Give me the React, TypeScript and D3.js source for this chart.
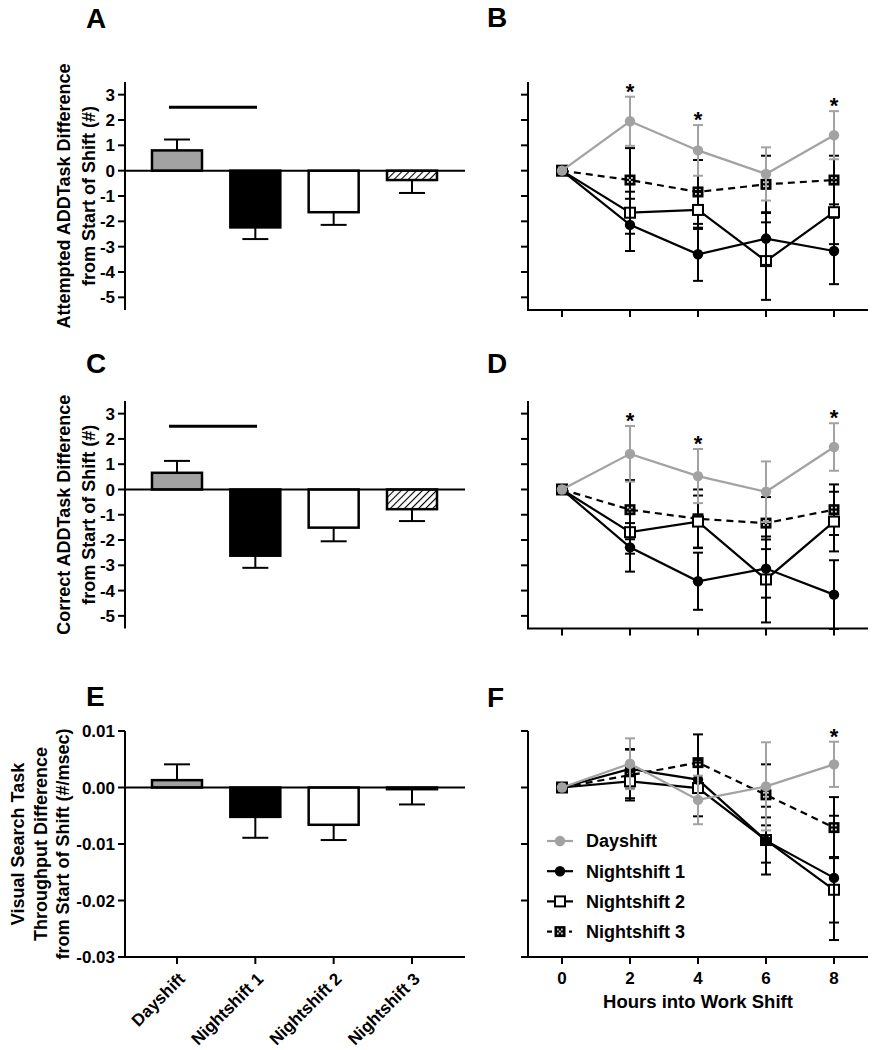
import React from 'react';
import * as d3 from 'd3';

/* ── Data ─────────────────────────────────────────────────────── */
const GROUPS = ['Dayshift', 'Nightshift 1', 'Nightshift 2', 'Nightshift 3'];
const HOURS = [0, 2, 4, 6, 8];
const ADD_TICKS = [3, 2, 1, 0, -1, -2, -3, -4, -5];
const VIS_TICKS = [0.01, 0, -0.01, -0.02, -0.03];

// A: attempted ADDTask, end-of-shift change (mean, SEM)
const attemptedMean = [0.8, -2.24, -1.64, -0.37];
const attemptedSem = [0.43, 0.46, 0.5, 0.51];
// C: correct ADDTask
const correctMean = [0.66, -2.62, -1.51, -0.78];
const correctSem = [0.47, 0.48, 0.54, 0.47];
// E: visual search throughput
const visualMean = [0.0013, -0.0052, -0.0066, -0.0003];
const visualSem = [0.0028, 0.0037, 0.0027, 0.0027];

// B: attempted ADDTask over hours
const attDay = [0, 1.95, 0.8, -0.13, 1.4];
const attDaySem = [0, 0.97, 1.0, 1.05, 0.95];
const attN1 = [0, -2.14, -3.3, -2.68, -3.17];
const attN1Sem = [0, 1.03, 1.05, 1.04, 1.31];
const attN2 = [0, -1.66, -1.55, -3.57, -1.64];
const attN2Sem = [0, 0.83, 0.75, 1.53, 1.26];
const attN3 = [0, -0.37, -0.84, -0.54, -0.37];
const attN3Sem = [0, 1.26, 1.26, 1.13, 0.96];
const attStars = [2, 4, 8];

// D: correct ADDTask over hours
const corDay = [0, 1.41, 0.53, -0.09, 1.68];
const corDaySem = [0, 1.1, 1.07, 1.2, 0.94];
const corN1 = [0, -2.29, -3.63, -3.13, -4.16];
const corN1Sem = [0, 0.96, 1.13, 1.15, 1.36];
const corN2 = [0, -1.69, -1.27, -3.56, -1.27];
const corN2Sem = [0, 0.85, 1.03, 1.7, 1.18];
const corN3 = [0, -0.8, -1.16, -1.33, -0.8];
const corN3Sem = [0, 1.17, 1.16, 1.03, 1.0];
const corStars = [2, 4, 8];

// F: visual search throughput over hours
const visDay = [0, 0.0042, -0.0022, 0.0002, 0.0041];
const visDaySem = [0, 0.0045, 0.0043, 0.0078, 0.004];
const visN1 = [0, 0.0033, 0.0014, -0.0094, -0.016];
const visN1Sem = [0, 0.0035, 0.0035, 0.006, 0.011];
const visN2 = [0, 0.0011, -0.0001, -0.0093, -0.0181];
const visN2Sem = [0, 0.003, 0.005, 0.004, 0.0058];
const visN3 = [0, 0.0022, 0.0044, -0.0013, -0.0071];
const visN3Sem = [0, 0.0045, 0.005, 0.0054, 0.0054];
const visStars = [8];

/* ── Style ────────────────────────────────────────────────────── */
const FONT = "'Liberation Sans', Arial, Helvetica, sans-serif";
const GRAY = '#a2a2a2';
const BAR_FILLS = [GRAY, '#000', '#fff', 'url(#hatch)'];

const addFmt = (v: number) => String(v);
const visFmt = (v: number) => v.toFixed(2);

type Row = { top: number; bottom: number; domain: [number, number] };
const ROW1: Row = { top: 82, bottom: 310, domain: [-5.5, 3.5] };
const ROW2: Row = { top: 401, bottom: 628.5, domain: [-5.5, 3.5] };
const ROW3: Row = { top: 731, bottom: 957, domain: [-0.03, 0.01] };

/* ── Bar panel (A, C, E) ─────────────────────────────────────── */
const BarPanel: React.FC<{
  row: Row;
  ticks: number[];
  fmt: (v: number) => string;
  mean: number[];
  sem: number[];
  letter: string;
  letterY: number;
  label: string[];
  labelX: number[];
  sig?: number;
  catAxis?: boolean;
}> = ({ row, ticks, fmt, mean, sem, letter, letterY, label, labelX, sig, catAxis }) => {
  const axisX = 125;
  const y = d3.scaleLinear().domain(row.domain).range([row.bottom, row.top]);
  const x = d3.scalePoint<string>().domain(GROUPS).range([177, 412]);
  const bw = 50;
  const y0 = y(0);
  const midY = (row.top + row.bottom) / 2;

  return (
    <g>
      <text x={86} y={letterY} fontSize={28} fontWeight="bold" fontFamily={FONT}>
        {letter}
      </text>
      {label.map((l, i) => (
        <text
          key={i}
          transform={`translate(${labelX[i]},${midY}) rotate(-90)`}
          textAnchor="middle"
          dy="0.35em"
          fontSize={18}
          fontWeight="bold"
          fontFamily={FONT}
        >
          {l}
        </text>
      ))}

      {/* bars */}
      {GROUPS.map((g, i) => {
        const v = mean[i];
        const cx = x(g)!;
        const e = v >= 0 ? v + sem[i] : v - sem[i];
        return (
          <g key={g}>
            <line x1={cx} x2={cx} y1={y(v)} y2={y(e)} stroke="#000" strokeWidth={2} />
            <line x1={cx - 13} x2={cx + 13} y1={y(e)} y2={y(e)} stroke="#000" strokeWidth={2} />
            <rect
              x={cx - bw / 2}
              width={bw}
              y={Math.min(y(v), y0)}
              height={Math.abs(y(v) - y0)}
              fill={BAR_FILLS[i]}
              stroke="#000"
              strokeWidth={2.5}
            />
          </g>
        );
      })}

      {/* zero line */}
      <line x1={axisX} x2={465} y1={y0} y2={y0} stroke="#000" strokeWidth={2} />

      {sig !== undefined && (
        <line x1={169} x2={257} y1={y(sig)} y2={y(sig)} stroke="#000" strokeWidth={3} />
      )}

      {/* y axis */}
      <line x1={axisX} x2={axisX} y1={row.top} y2={row.bottom} stroke="#000" strokeWidth={2} />
      {ticks.map(t => (
        <g key={t}>
          <line x1={axisX - 7} x2={axisX} y1={y(t)} y2={y(t)} stroke="#000" strokeWidth={2} />
          <text
            x={axisX - 10}
            y={y(t)}
            dy="0.36em"
            textAnchor="end"
            fontSize={17}
            fontWeight="bold"
            fontFamily={FONT}
          >
            {fmt(t)}
          </text>
        </g>
      ))}

      {catAxis && (
        <g>
          <line x1={axisX} x2={465} y1={row.bottom} y2={row.bottom} stroke="#000" strokeWidth={2} />
          {GROUPS.map(g => (
            <g key={g}>
              <line
                x1={x(g)!}
                x2={x(g)!}
                y1={row.bottom}
                y2={row.bottom + 7}
                stroke="#000"
                strokeWidth={2}
              />
              <text
                transform={`translate(${x(g)! + 9},${row.bottom + 23}) rotate(-45)`}
                textAnchor="end"
                fontSize={17}
                fontWeight="bold"
                fontFamily={FONT}
              >
                {g}
              </text>
            </g>
          ))}
        </g>
      )}
    </g>
  );
};

/* ── Line panel (B, D, F) ────────────────────────────────────── */
type Series = { name: string; vals: number[]; sem: number[] };

const Marker: React.FC<{ idx: number; cx: number; cy: number }> = ({ idx, cx, cy }) => {
  if (idx === 0) return <circle cx={cx} cy={cy} r={5.2} fill={GRAY} />;
  if (idx === 1) return <circle cx={cx} cy={cy} r={5.2} fill="#000" />;
  if (idx === 2)
    return (
      <rect x={cx - 5} y={cy - 5} width={10} height={10} fill="#fff" stroke="#000" strokeWidth={2} />
    );
  return (
    <g>
      <rect x={cx - 5.5} y={cy - 5.5} width={11} height={11} fill="#000" />
      {[
        [-3, -3],
        [1, -3],
        [-3, 1],
        [1, 1],
        [-1, -1]
      ].map(([dx, dy], k) => (
        <rect key={k} x={cx + dx} y={cy + dy} width={1.8} height={1.8} fill="#d8d8d8" />
      ))}
    </g>
  );
};

const LinePanel: React.FC<{
  row: Row;
  ticks: number[];
  series: Series[];
  stars: number[];
  letter: string;
  letterY: number;
  xLabels?: boolean;
  legend?: boolean;
}> = ({ row, ticks, series, stars, letter, letterY, xLabels, legend }) => {
  const x = d3.scaleLinear().domain([-1, 9]).range([528, 868]);
  const y = d3.scaleLinear().domain(row.domain).range([row.bottom, row.top]);
  const line = d3
    .line<number>()
    .x((_, i) => x(HOURS[i]))
    .y(d => y(d));
  const order = [3, 2, 1, 0];

  return (
    <g>
      <text x={487} y={letterY} fontSize={28} fontWeight="bold" fontFamily={FONT}>
        {letter}
      </text>

      {/* axes */}
      <line x1={528} x2={528} y1={row.top} y2={row.bottom} stroke="#000" strokeWidth={2} />
      {ticks.map(t => (
        <line key={t} x1={521} x2={528} y1={y(t)} y2={y(t)} stroke="#000" strokeWidth={2} />
      ))}
      <line x1={527} x2={868} y1={row.bottom} y2={row.bottom} stroke="#000" strokeWidth={2} />
      {HOURS.map(h => (
        <g key={h}>
          <line x1={x(h)} x2={x(h)} y1={row.bottom} y2={row.bottom + 7} stroke="#000" strokeWidth={2} />
          {xLabels && (
            <text
              x={x(h)}
              y={row.bottom + 27}
              textAnchor="middle"
              fontSize={17}
              fontWeight="bold"
              fontFamily={FONT}
            >
              {h}
            </text>
          )}
        </g>
      ))}
      {xLabels && (
        <text
          x={x(4)}
          y={row.bottom + 51}
          textAnchor="middle"
          fontSize={18.5}
          fontWeight="bold"
          fontFamily={FONT}
        >
          Hours into Work Shift
        </text>
      )}

      {/* series */}
      {order.map(si => {
        const s = series[si];
        const col = si === 0 ? GRAY : '#000';
        return (
          <g key={s.name}>
            {s.vals.map((v, i) =>
              s.sem[i] > 0 ? (
                <g key={i} stroke={col} strokeWidth={2}>
                  <line x1={x(HOURS[i])} x2={x(HOURS[i])} y1={y(v - s.sem[i])} y2={y(v + s.sem[i])} />
                  <line
                    x1={x(HOURS[i]) - 5}
                    x2={x(HOURS[i]) + 5}
                    y1={y(v + s.sem[i])}
                    y2={y(v + s.sem[i])}
                  />
                  <line
                    x1={x(HOURS[i]) - 5}
                    x2={x(HOURS[i]) + 5}
                    y1={y(v - s.sem[i])}
                    y2={y(v - s.sem[i])}
                  />
                </g>
              ) : null
            )}
            <path
              d={line(s.vals) || ''}
              fill="none"
              stroke={col}
              strokeWidth={2.2}
              strokeDasharray={si === 3 ? '7,5' : undefined}
            />
            {s.vals.map((v, i) => (
              <Marker key={i} idx={si} cx={x(HOURS[i])} cy={y(v)} />
            ))}
          </g>
        );
      })}

      {stars.map(h => {
        const i = HOURS.indexOf(h);
        const top = series[0].vals[i] + series[0].sem[i];
        return (
          <text
            key={h}
            x={x(h)}
            y={y(top) + 2}
            textAnchor="middle"
            fontSize={22}
            fontWeight="bold"
            fontFamily={FONT}
          >
            *
          </text>
        );
      })}

      {legend &&
        series.map((s, i) => {
          const ly = 841 + i * 30.2;
          return (
            <g key={s.name}>
              {i === 3 ? (
                <g stroke="#000" strokeWidth={2.2}>
                  <line x1={547} x2={552} y1={ly} y2={ly} />
                  <line x1={569} x2={572} y1={ly} y2={ly} />
                </g>
              ) : (
                <line
                  x1={547}
                  x2={573}
                  y1={ly}
                  y2={ly}
                  stroke={i === 0 ? GRAY : '#000'}
                  strokeWidth={2.2}
                />
              )}
              <Marker idx={i} cx={560} cy={ly} />
              <text
                x={586}
                y={ly}
                dy="0.36em"
                fontSize={18}
                fontWeight="bold"
                fontFamily={FONT}
              >
                {s.name}
              </text>
            </g>
          );
        })}
    </g>
  );
};

const mk = (vals: number[][], sems: number[][]): Series[] =>
  GROUPS.map((name, i) => ({ name, vals: vals[i], sem: sems[i] }));

/* ── App ─────────────────────────────────────────────────────── */
export default function App() {
  const attSeries = mk([attDay, attN1, attN2, attN3], [attDaySem, attN1Sem, attN2Sem, attN3Sem]);
  const corSeries = mk([corDay, corN1, corN2, corN3], [corDaySem, corN1Sem, corN2Sem, corN3Sem]);
  const visSeries = mk([visDay, visN1, visN2, visN3], [visDaySem, visN1Sem, visN2Sem, visN3Sem]);

  return (
    <svg
      width={877}
      height={1050}
      style={{ position: 'absolute', left: 0, top: 0, background: '#fff' }}
    >
      <defs>
        <pattern
          id="hatch"
          width={5}
          height={5}
          patternUnits="userSpaceOnUse"
          patternTransform="rotate(45)"
        >
          <rect width={5} height={5} fill="#fff" />
          <line x1={0} y1={0} x2={0} y2={5} stroke="#000" strokeWidth={2.2} />
        </pattern>
      </defs>

      <BarPanel
        row={ROW1}
        ticks={ADD_TICKS}
        fmt={addFmt}
        mean={attemptedMean}
        sem={attemptedSem}
        letter="A"
        letterY={28}
        label={['Attempted ADDTask Difference', 'from Start of Shift (#)']}
        labelX={[64, 89]}
        sig={2.5}
      />
      <BarPanel
        row={ROW2}
        ticks={ADD_TICKS}
        fmt={addFmt}
        mean={correctMean}
        sem={correctSem}
        letter="C"
        letterY={373}
        label={['Correct ADDTask Difference', 'from Start of Shift (#)']}
        labelX={[64, 89]}
        sig={2.5}
      />
      <BarPanel
        row={ROW3}
        ticks={VIS_TICKS}
        fmt={visFmt}
        mean={visualMean}
        sem={visualSem}
        letter="E"
        letterY={706}
        label={['Visual Search Task', 'Throughput Difference', 'from Start of Shift (#/msec)']}
        labelX={[18, 40.5, 63]}
        catAxis
      />

      <LinePanel row={ROW1} ticks={ADD_TICKS} series={attSeries} stars={attStars} letter="B" letterY={27} />
      <LinePanel row={ROW2} ticks={ADD_TICKS} series={corSeries} stars={corStars} letter="D" letterY={373} />
      <LinePanel
        row={ROW3}
        ticks={VIS_TICKS}
        series={visSeries}
        stars={visStars}
        letter="F"
        letterY={707}
        xLabels
        legend
      />
    </svg>
  );
}
